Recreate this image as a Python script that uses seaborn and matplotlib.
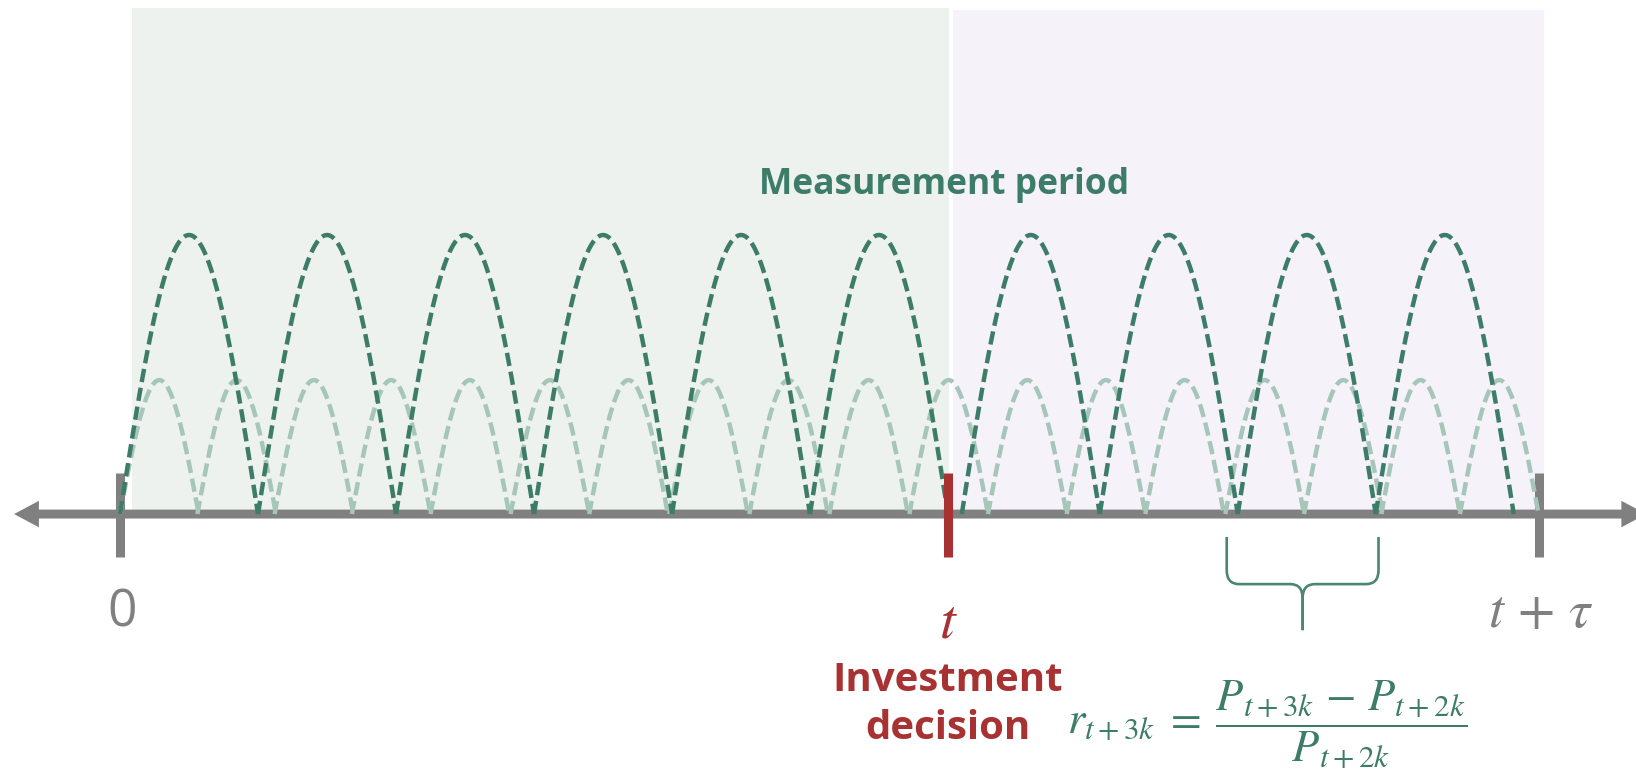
import numpy as np
import pandas as pd
import matplotlib
matplotlib.use('Agg')
import matplotlib.pyplot as plt
import seaborn as sns
from matplotlib.path import Path
from matplotlib.patches import PathPatch

# --- timeline data (one dark period = 1 unit) ---
dark_starts = [0.0, 1.0, 2.0, 3.0, 4.0, 5.0, 6.1, 7.1, 8.1, 9.1]
dark_width = 1.0
dark_height = 1.0

light_starts = [0.0, 0.56, 1.12, 1.68, 2.25, 2.83, 3.40, 3.98, 4.56,
                5.14, 5.72, 6.29, 6.86, 7.43, 8.01, 8.58, 9.14, 9.71]
light_width = 0.57
light_height = 0.48

tick_labels = ['0', r'$t$', r'$t\,+\,\tau$']
tick_pos = [0.0, 6.0, 10.28]
brace_span = (8.02, 9.12)

GREEN = '#3d7c69'
LIGHT = '#a6c6ba'
RED = '#a83232'
GREY = '#808080'


def arches(starts, width, height, kind):
    rows = []
    for i, s in enumerate(starts):
        f = np.linspace(0, 1, 80)
        for fx, fy in zip(f, np.sin(np.pi * f)):
            rows.append((kind, f'{kind}{i}', s + fx * width, fy * height))
    return pd.DataFrame(rows, columns=['kind', 'arch', 'x', 'y'])


df_dark = arches(dark_starts, dark_width, dark_height, 'dark')
df_light = arches(light_starts, light_width, light_height, 'light')

sns.set_theme(style='white')
plt.rcParams['font.family'] = ['Open Sans', 'DejaVu Sans']
plt.rcParams['mathtext.fontset'] = 'stix'

fig = plt.figure(figsize=(16.36, 7.75), dpi=100)
ax = fig.add_axes([0, 0, 1, 1])
ax.set_xlim(-0.870, 10.986)
ax.set_ylim(-0.935, 1.842)
ax.axis('off')

# background periods
ax.fill_between([0.087, 6.007], 0, 1.814, color='#edf2ee', lw=0, zorder=0)
ax.fill_between([6.036, 10.32], 0, 1.806, color='#f5f3f9', lw=0, zorder=0)

# time axis with arrows both ways
ax.arrow(5.0, 0, 11.06 - 5.0, 0, width=0.032, head_width=0.095,
         head_length=0.18, length_includes_head=True, color=GREY, lw=0, zorder=1)
ax.arrow(5.0, 0, -0.768 - 5.0, 0, width=0.032, head_width=0.095,
         head_length=0.18, length_includes_head=True, color=GREY, lw=0, zorder=1)
for x in [tick_pos[0], tick_pos[2]]:
    ax.plot([x, x], [-0.154, 0.147], color=GREY, lw=6.5,
            solid_capstyle='butt', zorder=2)

# sub-period arches (light) then full-period arches (dark)
dash = (0, (3.0, 1.3))
sns.lineplot(data=df_light, x='x', y='y', units='arch', estimator=None,
             color=LIGHT, lw=3.2, linestyle=dash, ax=ax, zorder=3)
sns.lineplot(data=df_dark, x='x', y='y', units='arch', estimator=None,
             color=GREEN, lw=3.2, linestyle=dash, ax=ax, zorder=4)

# investment decision tick
ax.plot([tick_pos[1], tick_pos[1]], [-0.154, 0.147], color=RED, lw=6.5,
        solid_capstyle='butt', zorder=5)

# labels
ax.text(tick_pos[0] + 0.014, -0.355, tick_labels[0], color=GREY,
        fontsize=37, ha='center', va='center')
ax.text(tick_pos[1], -0.39, tick_labels[1], color=RED,
        fontsize=41, ha='center', va='center')
ax.text(tick_pos[2] + 0.02, -0.351, tick_labels[2], color=GREY,
        fontsize=39, ha='center', va='center')

ax.text(5.97, 1.179, 'Measurement period', color=GREEN, fontsize=25.5,
        fontweight='bold', ha='center', va='center')
ax.text(6.0, -0.681, 'Investment\ndecision', color=RED, fontsize=29,
        fontweight='bold', ha='center', va='center', linespacing=1.3)

ax.text(8.31, -0.752,
        r'$r_{t+3k}\;=\;\dfrac{P_{t+3k}\,-\,P_{t+2k}}{P_{t+2k}}$',
        color=GREEN, fontsize=32, ha='center', va='center')

# curly brace under one full period
x0, x1 = brace_span
xm = (x0 + x1) / 2
yt, ym, ytip = -0.082, -0.251, -0.416
rx, ry = 0.09, 0.05
for xa, sgn in [(x0, 1), (x1, -1)]:
    verts = [(xa, yt), (xa, ym + ry), (xa, ym), (xa + sgn * rx, ym),
             (xm - sgn * rx, ym), (xm, ym), (xm, ym - ry), (xm, ytip)]
    codes = [Path.MOVETO, Path.LINETO, Path.CURVE3, Path.CURVE3,
             Path.LINETO, Path.CURVE3, Path.CURVE3, Path.LINETO]
    ax.add_patch(PathPatch(Path(verts, codes), fill=False, edgecolor='#4a8672',
                           lw=1.9, zorder=5))

if ax.get_legend() is not None:
    ax.get_legend().remove()

fig.savefig('out.png', dpi=100)
